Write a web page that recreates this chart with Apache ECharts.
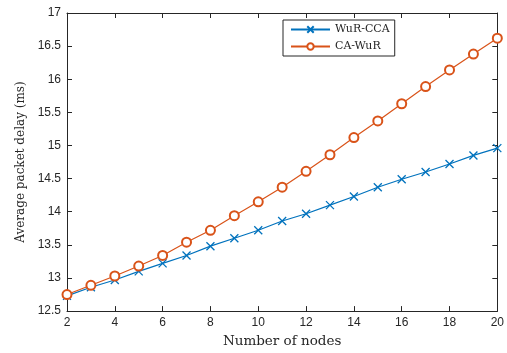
<!DOCTYPE html>
<html><head><meta charset="utf-8">
<script src="https://cdn.jsdelivr.net/npm/echarts@6/dist/echarts.min.js"></script>
<style>html,body{margin:0;padding:0;background:#fff}#c{width:507px;height:353px}</style>
</head><body><div id="c"></div>
<script>
var nodes = [2,3,4,5,6,7,8,9,10,11,12,13,14,15,16,17,18,19,20];
var wurCca = [12.73,12.86,12.97,13.10,13.22,13.34,13.48,13.60,13.72,13.86,13.97,14.10,14.23,14.37,14.49,14.60,14.72,14.85,14.96];
var caWur = [12.75,12.89,13.03,13.18,13.34,13.54,13.72,13.94,14.15,14.37,14.61,14.86,15.12,15.37,15.63,15.89,16.14,16.38,16.62];
var xTicks = [2,4,6,8,10,12,14,16,18,20];
var yTicks = [12.5,13,13.5,14,14.5,15,15.5,16,16.5,17];

function pairs(ys){ return nodes.map(function(x,i){ return [x, ys[i]]; }); }
var chart = echarts.init(document.getElementById('c'), null, {renderer:'canvas'});
var axLine = {show:true, lineStyle:{color:'#262626', width:1}};
var tickFont = {fontFamily:'Liberation Sans, Arial, sans-serif', fontSize:12, color:'#262626'};
var serif = 'DejaVu Serif, Liberation Serif, serif';
chart.setOption({
  animation:false,
  backgroundColor:'#fff',
  grid:{left:67, right:9, top:13, bottom:39, containLabel:false},
  legend:{
    orient:'vertical', left:283, top:20, padding:[4,5,4,7],
    backgroundColor:'#fff', borderColor:'#262626', borderWidth:1, borderRadius:0,
    itemWidth:39, itemHeight:8, itemGap:6,
    textStyle:{fontFamily:serif, fontSize:11, color:'#262626'},
    data:['WuR-CCA','CA-WuR']
  },
  xAxis:[{
    type:'value', min:2, max:20, interval:2,
    name:'Number of nodes', nameLocation:'middle', nameGap:22,
    nameTextStyle:{fontFamily:serif, fontSize:13.5, color:'#262626'},
    axisLine:axLine, axisTick:{show:true, inside:true, length:5, lineStyle:{color:'#262626'}},
    axisLabel:Object.assign({margin:6}, tickFont, {formatter:function(v){return xTicks.indexOf(v)>=0? String(v):'';}}),
    splitLine:{show:false}
  },{
    type:'value', min:2, max:20, interval:2, position:'top',
    axisLine:axLine, axisTick:{show:true, inside:true, length:5, lineStyle:{color:'#262626'}},
    axisLabel:{show:false}, splitLine:{show:false}
  }],
  yAxis:[{
    type:'value', min:12.5, max:17, interval:0.5,
    name:'Average packet delay (ms)', nameLocation:'middle', nameGap:38,
    nameTextStyle:{fontFamily:serif, fontSize:12, color:'#262626'},
    axisLine:axLine, axisTick:{show:true, inside:true, length:5, lineStyle:{color:'#262626'}},
    axisLabel:Object.assign({margin:6}, tickFont, {formatter:function(v){return yTicks.indexOf(v)>=0? String(v):'';}}),
    splitLine:{show:false}
  },{
    type:'value', min:12.5, max:17, interval:0.5, position:'right',
    axisLine:axLine, axisTick:{show:true, inside:true, length:5, lineStyle:{color:'#262626'}},
    axisLabel:{show:false}, splitLine:{show:false}
  }],
  series:[{
    name:'WuR-CCA', type:'line', data:pairs(wurCca),
    symbol:'path://M0,0L10,10M10,0L0,10', symbolSize:8,
    lineStyle:{color:'#0072BD', width:1.2},
    itemStyle:{color:'#0072BD', borderColor:'#0072BD', borderWidth:1.3}
  },{
    name:'CA-WuR', type:'line', data:pairs(caWur),
    symbol:'emptyCircle', symbolSize:9,
    lineStyle:{color:'#D95319', width:1.2},
    itemStyle:{color:'#D95319', borderColor:'#D95319', borderWidth:1.2}
  }]
});
</script></body></html>
